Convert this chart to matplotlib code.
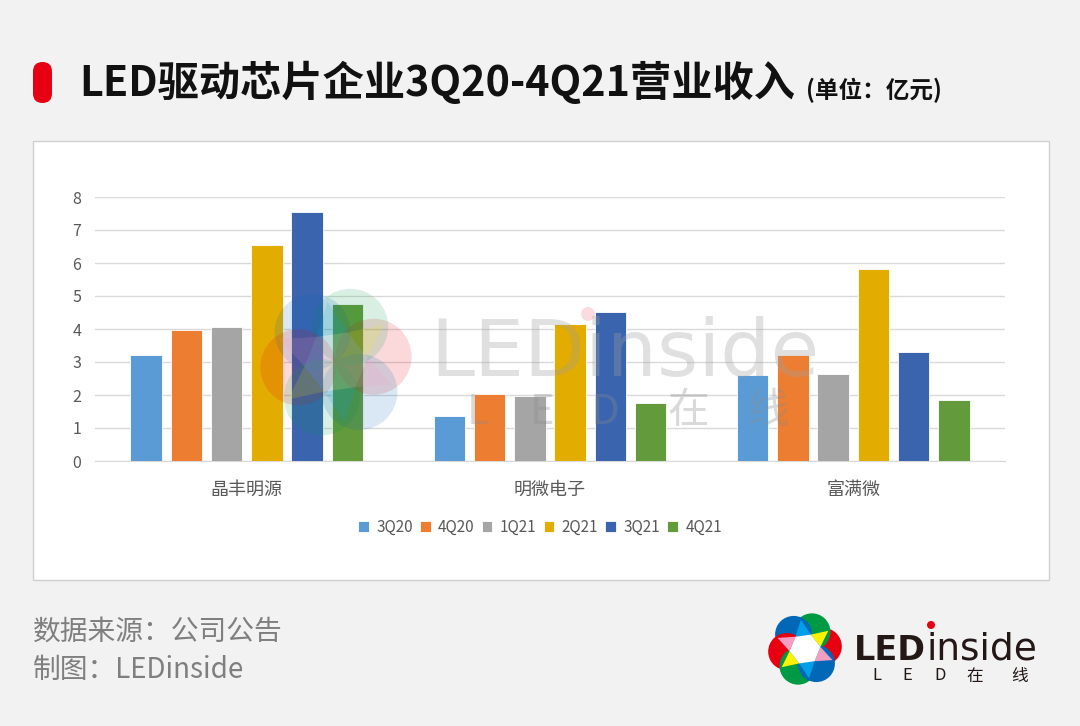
import matplotlib
matplotlib.use('Agg')
import matplotlib.pyplot as plt
import numpy as np
from matplotlib.patches import FancyBboxPatch, Rectangle, Circle, Polygon

plt.rcParams['font.family'] = ['Noto Sans CJK SC', 'DejaVu Sans']

# data (亿元)
companies = ['晶丰明源', '明微电子', '富满微']
quarters = ['3Q20', '4Q20', '1Q21', '2Q21', '3Q21', '4Q21']
rev_3q20 = [3.21, 1.35, 2.60]
rev_4q20 = [3.96, 2.03, 3.21]
rev_1q21 = [4.05, 1.98, 2.63]
rev_2q21 = [6.55, 4.15, 5.83]
rev_3q21 = [7.55, 4.52, 3.31]
rev_4q21 = [4.75, 1.76, 1.86]
series = [rev_3q20, rev_4q20, rev_1q21, rev_2q21, rev_3q21, rev_4q21]
colors = ['#5B9BD5', '#ED7D31', '#A5A5A5', '#E2AC00', '#3B64AF', '#639A3C']

W, H = 1080, 726
fig = plt.figure(figsize=(W / 100, H / 100), dpi=100)
fig.patch.set_facecolor('#f2f2f2')

# background layer in pixel coords
bg = fig.add_axes([0, 0, 1, 1], zorder=0)
bg.set_xlim(0, W)
bg.set_ylim(H, 0)
bg.axis('off')
bg.add_patch(Rectangle((33, 141), 1016, 439, facecolor='white', edgecolor='#d0d0d0', lw=1))
bg.add_patch(FancyBboxPatch((33, 62), 19, 41, boxstyle='round,pad=0,rounding_size=9.5',
                            facecolor='#E60012', edgecolor='none'))
bg.text(79, 83, 'LED驱动芯片企业3Q20-4Q21营业收入', fontsize=29.7, fontweight='bold',
        color='#111111', va='center', ha='left')
bg.text(806, 90, '(单位：亿元)', fontsize=17, fontweight='bold', color='#111111',
        va='center', ha='left')
bg.text(33, 632, '数据来源：公司公告', fontsize=20, color='#7f7f7f', va='center', ha='left')
bg.text(33, 670, '制图：LEDinside', fontsize=20, color='#7f7f7f', va='center', ha='left')

# chart
ax = fig.add_axes([95 / W, 1 - 461 / H, 910 / W, 264 / H], zorder=1)
ax.set_facecolor('white')
x = np.arange(len(companies))
step = 0.1327
width = 0.104
for i, (vals, c, q) in enumerate(zip(series, colors, quarters)):
    ax.bar(x + (i - 2.5) * step, vals, width, color=c, label=q, zorder=3,
           edgecolor='white', linewidth=0.6)
ax.set_xlim(-0.5, 2.5)
ax.set_ylim(0, 8)
ax.set_yticks(range(0, 9))
ax.yaxis.grid(True, color='#d9d9d9', lw=1, zorder=0)
for s in ['top', 'right', 'left']:
    ax.spines[s].set_visible(False)
ax.spines['bottom'].set_color('#d9d9d9')
ax.tick_params(axis='y', length=0, pad=10, labelsize=11.5, labelcolor='#595959')
ax.tick_params(axis='x', length=0, pad=14, labelsize=13, labelcolor='#595959')
ax.set_xticks(x)
ax.set_xticklabels(companies)
leg = ax.legend(loc='center', bbox_to_anchor=(0.5, 1 - 527 / H), bbox_transform=fig.transFigure,
                ncol=6, frameon=False, fontsize=11, handlelength=0.7, handleheight=0.7,
                handletextpad=0.5, columnspacing=0.45, labelcolor='#595959')


def flower(a, cx, cy, r, alpha, z):
    petal_ang = [8, 68, 128, 188, 248, 308]
    petal_col = ['#E60012', '#009944', '#0068B7', '#E60012', '#009944', '#0068B7']
    for ang, col in zip(petal_ang, petal_col):
        t = np.radians(ang)
        a.add_patch(Circle((cx + 0.5 * r * np.cos(t), cy - 0.5 * r * np.sin(t)), 0.5 * r,
                           facecolor=col, edgecolor='none', alpha=alpha, zorder=z))
    mix_col = ['#FFF100', '#00A0E9', '#F19EC2', '#FFF100', '#00A0E9', '#F19EC2']
    for k in range(6):
        b = np.radians(petal_ang[k] + 30)
        t1 = np.radians(petal_ang[k])
        t2 = np.radians(petal_ang[k] + 60)
        pts = [(cx + 0.42 * r * np.cos(t1), cy - 0.42 * r * np.sin(t1)),
               (cx + 0.42 * r * np.cos(t2), cy - 0.42 * r * np.sin(t2)),
               (cx + 0.8 * r * np.cos(b), cy - 0.8 * r * np.sin(b))]
        a.add_patch(Polygon(pts, facecolor=mix_col[k], edgecolor='none', alpha=alpha, zorder=z))
    hexp = [(cx + 0.42 * r * np.cos(np.radians(g)), cy - 0.42 * r * np.sin(np.radians(g)))
            for g in petal_ang]
    a.add_patch(Polygon(hexp, facecolor='white', edgecolor='none', alpha=alpha, zorder=z))


# overlay: watermark and logo
top = fig.add_axes([0, 0, 1, 1], zorder=2)
top.set_xlim(0, W)
top.set_ylim(H, 0)
top.axis('off')
top.patch.set_alpha(0)

flower(top, 336, 362, 76, 0.15, 1)
top.text(430, 376, 'LEDinside', fontsize=57, color='#a0a0a0', alpha=0.32,
         va='baseline', ha='left', family='DejaVu Sans')
top.add_patch(Circle((588, 314), 7, facecolor='#F4A6B0', alpha=0.4, edgecolor='none'))
for ch, px in zip(['L', 'E', 'D', '在', '线'], [478, 542, 605, 688, 768]):
    top.text(px, 412, ch, fontsize=30, color='#8a8a8a', alpha=0.32, va='center', ha='center')

flower(top, 805, 649, 37, 1.0, 3)
top.text(854, 660, 'LED', fontsize=24, fontweight='bold', color='#231815',
         va='baseline', ha='left', zorder=4, family='DejaVu Sans')
top.text(926, 660, 'inside', fontsize=27, color='#231815', va='baseline', ha='left', zorder=4,
         family='DejaVu Sans', stretch='expanded')
top.add_patch(Circle((931, 625), 4, facecolor='#E60012', edgecolor='none', zorder=5))
for ch, px in zip(['L', 'E', 'D', '在', '线'], [877, 907, 940, 975, 1020]):
    top.text(px, 676, ch, fontsize=12, color='#231815', va='center', ha='center', zorder=4)

fig.savefig('out.png', dpi=100, facecolor=fig.get_facecolor())
